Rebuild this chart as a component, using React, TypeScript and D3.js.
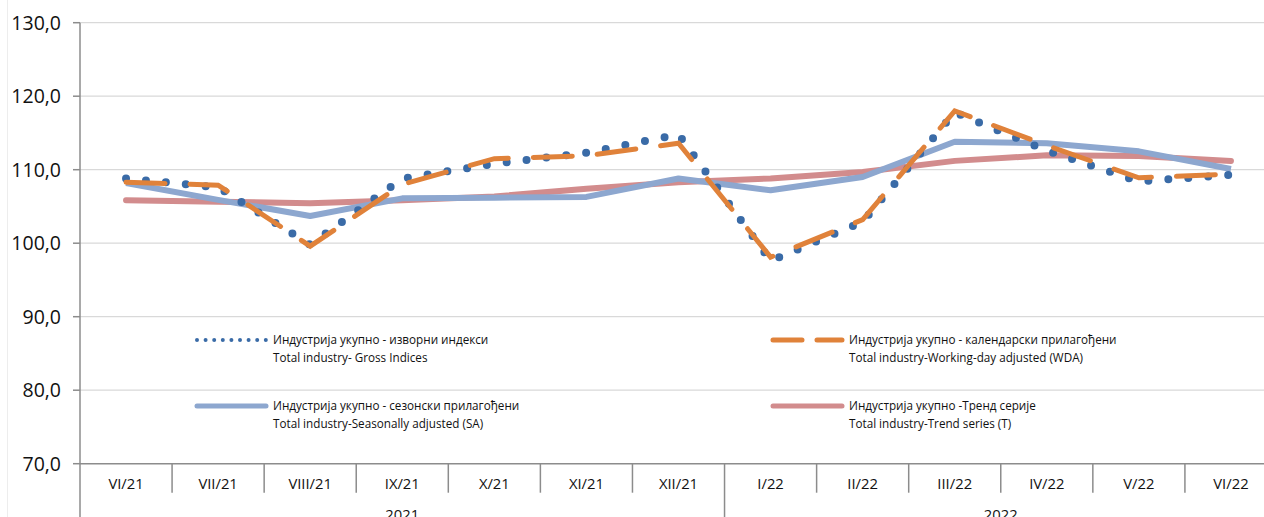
import React from "react";
import * as d3 from "d3";

const categories = ["VI/21", "VII/21", "VIII/21", "IX/21", "X/21", "XI/21", "XII/21", "I/22", "II/22", "III/22", "IV/22", "V/22", "VI/22"];
const years = [
  { label: "2021", from: 0, to: 7 },
  { label: "2022", from: 7, to: 13 },
];
const grossValues = [108.8, 107.6, 99.8, 108.8, 110.8, 112.3, 114.8, 97.6, 102.9, 117.8, 112.6, 108.4, 109.3];
const wdaValues = [108.3, 107.9, 99.6, 108.0, 111.5, 111.9, 113.6, 98.1, 103.2, 118.0, 113.3, 108.9, 109.4];
const saValues = [108.2, 105.9, 103.7, 106.1, 106.2, 106.3, 108.8, 107.2, 109.0, 113.8, 113.6, 112.5, 110.1];
const trendValues = [105.85, 105.65, 105.45, 105.85, 106.35, 107.4, 108.3, 108.8, 109.7, 111.2, 111.95, 111.85, 111.2];
const yTicks = [70, 80, 90, 100, 110, 120, 130];

const legendItems = [
  { key: "gross", line1: "Индустрија укупно - изворни индекси", line2: "Total industry- Gross Indices" },
  { key: "wda", line1: "Индустрија укупно - календарски прилагођени", line2: "Total industry-Working-day adjusted (WDA)" },
  { key: "sa", line1: "Индустрија укупно - сезонски прилагођени", line2: "Total industry-Seasonally adjusted (SA)" },
  { key: "trend", line1: "Индустрија укупно -Тренд серије", line2: "Total industry-Trend series (T)" },
];

const W = 1264;
const H = 517;
const FONT = "'Open Sans', 'Noto Sans', sans-serif";

const COLORS = {
  gross: "#3A6BA7",
  wda: "#E0823A",
  sa: "#8DA7CF",
  trend: "#D28C8D",
  grid: "#D9D9D9",
  axis: "#8C8C8C",
};

export default function App() {
  const x = d3.scaleBand<string>().domain(categories).range([80, 1277]).padding(0);
  const y = d3.scaleLinear().domain([70, 130]).range([463.7, 22.7]);
  const bw = x.bandwidth();
  const cx = (i: number) => (x(categories[i]) as number) + bw / 2;

  const line = d3
    .line<number>()
    .x((_, i) => cx(i))
    .y((d) => y(d));

  const plotLeft = 80;
  const baseY = y(70);

  const styles: Record<string, any> = {
    gross: { stroke: COLORS.gross, strokeWidth: 8, strokeDasharray: "0 20", strokeLinecap: "round" },
    wda: { stroke: COLORS.wda, strokeWidth: 5, strokeDasharray: "39 25", strokeLinecap: "round" },
    sa: { stroke: COLORS.sa, strokeWidth: 6, strokeLinecap: "butt", strokeLinejoin: "round" },
    trend: { stroke: COLORS.trend, strokeWidth: 6, strokeLinecap: "round", strokeLinejoin: "round" },
  };
  const legendStyles: Record<string, any> = {
    gross: { stroke: COLORS.gross, strokeWidth: 4, strokeDasharray: "0 8.6", strokeLinecap: "round" },
    wda: { stroke: COLORS.wda, strokeWidth: 5, strokeDasharray: "29 15", strokeLinecap: "round" },
    sa: { stroke: COLORS.sa, strokeWidth: 5, strokeLinecap: "round" },
    trend: { stroke: COLORS.trend, strokeWidth: 5, strokeLinecap: "round" },
  };
  const legendPos: Record<string, { x: number; y: number }> = {
    gross: { x: 197, y: 340 },
    wda: { x: 773, y: 340 },
    sa: { x: 197, y: 406 },
    trend: { x: 773, y: 406 },
  };

  return (
    <svg
      width={W}
      height={H}
      style={{ position: "absolute", left: 0, top: 0, background: "#fff" }}
      fontFamily={FONT}
    >
      <rect x={0} y={0} width={W} height={H} fill="#fff" />
      <line x1={7.5} x2={7.5} y1={0} y2={H} stroke="#EDEDED" strokeWidth={1} />

      {/* gridlines */}
      {yTicks.filter((t) => t !== 70).map((t) => (
        <line key={"g" + t} x1={plotLeft} x2={W} y1={y(t)} y2={y(t)} stroke={COLORS.grid} strokeWidth={1.3} />
      ))}

      {/* y axis */}
      <line x1={plotLeft} x2={plotLeft} y1={y(130)} y2={H} stroke={COLORS.axis} strokeWidth={1.5} />
      {yTicks.map((t) => (
        <g key={"yt" + t}>
          <line x1={73} x2={plotLeft} y1={y(t)} y2={y(t)} stroke={COLORS.axis} strokeWidth={1.5} />
          <text x={61} y={y(t)} dy="0.36em" textAnchor="end" fontSize={19.5} fill="#111">
            {t.toFixed(1).replace(".", ",")}
          </text>
        </g>
      ))}

      {/* x axis */}
      <line x1={plotLeft} x2={W} y1={baseY} y2={baseY} stroke={COLORS.axis} strokeWidth={1.5} />
      {categories.map((c, i) => {
        const x0 = x(c) as number;
        const isYearEdge = years.some((yr) => yr.from === i);
        return (
          <g key={"xc" + c}>
            {i > 0 && (
              <line x1={x0} x2={x0} y1={baseY} y2={isYearEdge ? H : baseY + 29} stroke={COLORS.axis} strokeWidth={1.5} />
            )}
            <text x={x0 + bw / 2} y={484} dy="0.36em" textAnchor="middle" fontSize={14.8} fill="#111">
              {c}
            </text>
          </g>
        );
      })}
      {years.map((yr) => {
        const a = x(categories[yr.from]) as number;
        const b = yr.to < categories.length ? (x(categories[yr.to]) as number) : 1277;
        return (
          <text key={yr.label} x={(a + b) / 2} y={520} textAnchor="middle" fontSize={14.8} fill="#111">
            {yr.label}
          </text>
        );
      })}

      {/* series */}
      <path d={line(trendValues) || ""} fill="none" {...styles.trend} />
      <path d={line(saValues) || ""} fill="none" {...styles.sa} />
      <path d={line(grossValues) || ""} fill="none" {...styles.gross} />
      <path d={line(wdaValues) || ""} fill="none" {...styles.wda} />

      {/* legend */}
      {legendItems.map((it) => {
        const p = legendPos[it.key];
        return (
          <g key={"lg" + it.key}>
            <line x1={p.x} x2={p.x + 69} y1={p.y} y2={p.y} {...legendStyles[it.key]} />
            <text x={p.x + 76} y={p.y} dy="0.36em" fontSize={11.7} fill="#111">
              {it.line1}
            </text>
            <text x={p.x + 76} y={p.y + 18} dy="0.36em" fontSize={11.7} fill="#111">
              {it.line2}
            </text>
          </g>
        );
      })}
    </svg>
  );
}
